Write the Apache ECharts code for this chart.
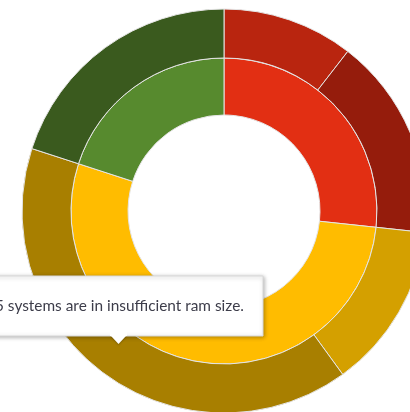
<!DOCTYPE html>
<html>
<head>
<meta charset="utf-8">
<script src="https://cdn.jsdelivr.net/npm/echarts@6/dist/echarts.min.js"></script>
<style>
html,body{margin:0;padding:0;background:#fff;}
#c{width:410px;height:412px;}
</style>
</head>
<body>
<div id="c"></div>
<script>
// Inner ring: status groups
const innerNames = ['Critical', 'Warning', 'Healthy'];
const innerValues = [26.7, 53.3, 20.0];
const innerColors = ['#E22F13', '#FFBC00', '#578A2E'];
// Outer ring: breakdown
const outerNames = ['Critical A', 'Critical B', 'Warning A', 'Warning B', 'Healthy'];
const outerValues = [10.5, 16.2, 13.3, 40.0, 20.0];
const outerColors = ['#B9250F', '#951C0C', '#D4A000', '#A87F00', '#3A5A1E'];
const tooltipText = '5 systems are in insufficient ram size.';

const chart = echarts.init(document.getElementById('c'), null, {renderer: 'canvas'});
const mk = (names, values, colors) => names.map((n, i) => ({name: n, value: values[i], itemStyle: {color: colors[i]}}));
chart.setOption({
  animation: false,
  series: [
    {
      type: 'pie', center: [224, 211], radius: [96, 153], startAngle: 90, clockwise: true,
      label: {show: false}, labelLine: {show: false}, silent: true,
      itemStyle: {borderColor: '#e4e4e4', borderWidth: 1},
      data: mk(innerNames, innerValues, innerColors)
    },
    {
      type: 'pie', center: [224, 211], radius: [153, 202], startAngle: 90, clockwise: true,
      label: {show: false}, labelLine: {show: false}, silent: true,
      itemStyle: {borderColor: '#e4e4e4', borderWidth: 1},
      data: mk(outerNames, outerValues, outerColors)
    }
  ],
  graphic: {
    zlevel: 1,
    elements: [
      {type: 'rect', z: 100, shape: {x: -10, y: 276, width: 273, height: 60},
       style: {fill: '#fff', stroke: '#d8d8d8', lineWidth: 1, shadowBlur: 4, shadowOffsetX: 1, shadowOffsetY: 1, shadowColor: 'rgba(0,0,0,0.3)'}},
      {type: 'polygon', z: 101, shape: {points: [[111, 336], [126, 336], [118.5, 344]]},
       style: {fill: '#fff', shadowBlur: 2, shadowOffsetY: 1, shadowColor: 'rgba(0,0,0,0.25)'}},
      {type: 'rect', z: 102, shape: {x: 110, y: 332, width: 17, height: 4}, style: {fill: '#fff'}},
      {type: 'text', z: 103, x: -5, y: 306,
       style: {text: tooltipText, fill: '#3d3d4a', font: '15.4px Lato', textVerticalAlign: 'middle'}}
    ]
  }
});
</script>
</body>
</html>
